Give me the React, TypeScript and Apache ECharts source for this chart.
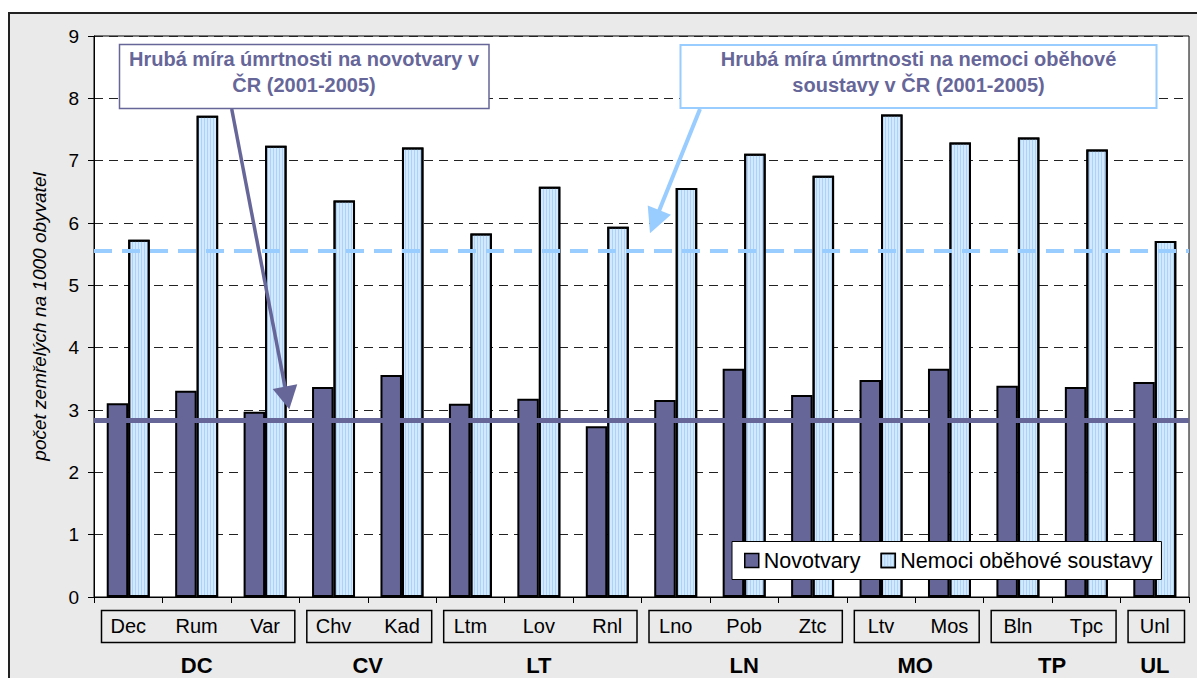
import React, { useEffect, useRef } from "react";
import * as echarts from "echarts";

// ---- data ----
const categories = ["Dec", "Rum", "Var", "Chv", "Kad", "Ltm", "Lov", "Rnl", "Lno", "Pob", "Ztc", "Ltv", "Mos", "Bln", "Tpc", "Unl"];
const groupNames = ["DC", "CV", "LT", "LN", "MO", "TP", "UL"];
const groupSizes = [3, 2, 3, 3, 2, 2, 1];
const novotvary = [3.11, 3.31, 2.97, 3.37, 3.56, 3.10, 3.18, 2.74, 3.16, 3.66, 3.24, 3.48, 3.66, 3.39, 3.37, 3.45];
const nemoci = [5.73, 7.72, 7.24, 6.36, 7.21, 5.83, 6.58, 5.94, 6.56, 7.11, 6.76, 7.74, 7.29, 7.37, 7.18, 5.71];
const NOVOTVARY_CR = 2.83;
const NEMOCI_CR = 5.55;
const yTicks = [0, 1, 2, 3, 4, 5, 6, 7, 8, 9];
const seriesNames = ["Novotvary", "Nemoci oběhové soustavy"];
const yAxisName = "počet zemřelých na 1000 obyvatel";
const note1 = "Hrubá míra úmrtnosti na novotvary v\nČR (2001-2005)";
const note2 = "Hrubá míra úmrtnosti na nemoci oběhové\nsoustavy v ČR (2001-2005)";

// ---- layout ----
const FONT = "'Liberation Sans', Arial, sans-serif";
const GRID_LEFT = 94;
const GRID_TOP = 36;
const GRID_WIDTH = 1095;
const GRID_HEIGHT = 561;
const DARK = "#666699";
const LIGHT = "#99ccff";

function arrow(x1: number, y1: number, x2: number, y2: number, color: string, w: number, headLen: number, headW: number) {
  const dx = x2 - x1;
  const dy = y2 - y1;
  const L = Math.hypot(dx, dy);
  const ux = dx / L;
  const uy = dy / L;
  const bx = x2 - ux * headLen;
  const by = y2 - uy * headLen;
  const px = -uy;
  const py = ux;
  return [
    { type: "line", z: 100, shape: { x1, y1, x2: bx + ux * 2, y2: by + uy * 2 }, style: { stroke: color, lineWidth: w } },
    {
      type: "polygon",
      z: 100,
      shape: { points: [[x2, y2], [bx + (px * headW) / 2, by + (py * headW) / 2], [bx - (px * headW) / 2, by - (py * headW) / 2]] },
      style: { fill: color },
    },
  ];
}

export default function App() {
  const ref = useRef<HTMLDivElement>(null);
  useEffect(() => {
    if (!ref.current) return;
    const chart = echarts.init(ref.current, undefined, { renderer: "svg" });
    const cw = GRID_WIDTH / categories.length;
    const graphics: any[] = [];
    let start = 0;
    groupNames.forEach((g, i) => {
      const n = groupSizes[i];
      const x0 = GRID_LEFT + start * cw + 7;
      const x1 = GRID_LEFT + (start + n) * cw - 5;
      graphics.push({
        type: "rect",
        z: 50,
        shape: { x: x0 + 0.5, y: 610.5, width: x1 - x0, height: 32 },
        style: { fill: "none", stroke: "#000", lineWidth: 1.5 },
      });
      graphics.push({
        type: "text",
        z: 50,
        x: GRID_LEFT + (start + n / 2) * cw,
        y: 665,
        style: { text: g, font: `bold 22px ${FONT}`, fill: "#000", textAlign: "center", textVerticalAlign: "middle" },
      });
      start += n;
    });
    // annotation boxes
    graphics.push({
      type: "rect",
      z: 90,
      shape: { x: 119.5, y: 44.5, width: 369.5, height: 64 },
      style: { fill: "#fff", stroke: DARK, lineWidth: 1.5 },
    });
    graphics.push({
      type: "text",
      z: 91,
      x: 304,
      y: 72,
      style: { text: note1, font: `bold 20px ${FONT}`, fill: DARK, textAlign: "center", textVerticalAlign: "middle", lineHeight: 26 },
    });
    graphics.push({
      type: "rect",
      z: 90,
      shape: { x: 680.5, y: 45, width: 476, height: 63 },
      style: { fill: "#fff", stroke: LIGHT, lineWidth: 2 },
    });
    graphics.push({
      type: "text",
      z: 91,
      x: 918.5,
      y: 72,
      style: { text: note2, font: `bold 20px ${FONT}`, fill: DARK, textAlign: "center", textVerticalAlign: "middle", lineHeight: 26 },
    });
    graphics.push(...arrow(231.7, 109, 289.3, 409.3, DARK, 3.5, 23, 25));
    graphics.push(...arrow(700, 109, 650, 233.3, LIGHT, 4, 25, 25));

    chart.setOption({
      animation: false,
      textStyle: { fontFamily: FONT },
      grid: {
        left: GRID_LEFT,
        top: GRID_TOP,
        width: GRID_WIDTH,
        height: GRID_HEIGHT,
        show: true,
        backgroundColor: "#fff",
        borderColor: "#000",
        borderWidth: 1,
      },
      legend: {
        data: seriesNames,
        left: 732,
        top: 541.5,
        orient: "horizontal",
        icon: "rect",
        itemWidth: 14,
        itemHeight: 14,
        itemGap: 20,
        padding: [8, 9, 8, 12],
        backgroundColor: "#fff",
        borderColor: "#000",
        borderWidth: 1,
        itemStyle: { borderColor: "#000", borderWidth: 1.5 },
        textStyle: { fontSize: 21.5, color: "#000", fontFamily: FONT, lineHeight: 21 },
      },
      xAxis: {
        type: "category",
        data: categories,
        boundaryGap: true,
        axisLine: { show: true, lineStyle: { color: "#000", width: 1 } },
        axisTick: { show: true, length: 6, lineStyle: { color: "#000" } },
        axisLabel: { fontSize: 20, color: "#000", margin: 19, fontFamily: FONT, interval: 0 },
        splitLine: { show: false },
      },
      yAxis: {
        type: "value",
        min: yTicks[0],
        max: yTicks[yTicks.length - 1],
        interval: 1,
        name: yAxisName,
        nameLocation: "middle",
        nameRotate: 90,
        nameGap: 45,
        nameTextStyle: { fontSize: 19, fontStyle: "italic", color: "#000", fontFamily: FONT },
        axisLine: { show: true, lineStyle: { color: "#000", width: 1 } },
        axisTick: { show: true, length: 6, lineStyle: { color: "#000" } },
        axisLabel: { fontSize: 19, color: "#000", margin: 15, fontFamily: FONT },
        splitLine: { show: true, lineStyle: { color: "#222", width: 1, type: [9, 6] } },
      },
      series: [
        {
          name: seriesNames[0],
          type: "bar",
          data: novotvary,
          barWidth: "31.4%",
          barGap: "0%",
          itemStyle: { color: DARK, borderColor: "#000", borderWidth: 2 },
          markLine: {
            silent: true,
            symbol: "none",
            label: { show: false },
            lineStyle: { color: DARK, width: 5, type: "solid" },
            data: [{ yAxis: NOVOTVARY_CR }],
          },
        },
        {
          name: seriesNames[1],
          type: "bar",
          data: nemoci,
          barWidth: "31.4%",
          barGap: "0%",
          itemStyle: {
            color: "#d2e9ff",
            borderColor: "#000",
            borderWidth: 2,
            decal: {
              symbol: "rect",
              symbolSize: 1,
              dashArrayX: [1, 2],
              dashArrayY: [4, 0],
              color: "rgba(140,190,240,0.55)",
            },
          },
          markLine: {
            silent: true,
            symbol: "none",
            label: { show: false },
            lineStyle: { color: LIGHT, width: 4, type: [18, 10] },
            data: [{ yAxis: NEMOCI_CR }],
          },
        },
      ],
      graphic: { elements: graphics },
    });
    return () => chart.dispose();
  }, []);

  return (
    <div style={{ position: "fixed", left: 0, top: 0, width: 1197, height: 678, overflow: "hidden", background: "#fff" }}>
      <div
        style={{
          position: "absolute",
          left: 8,
          top: 12,
          width: 1400,
          height: 900,
          background: "#eaeaea",
          borderLeft: "2px solid #222",
          borderTop: "2px solid #222",
        }}
      />
      <div ref={ref} style={{ position: "absolute", left: 0, top: 0, width: 1197, height: 678 }} />
    </div>
  );
}
